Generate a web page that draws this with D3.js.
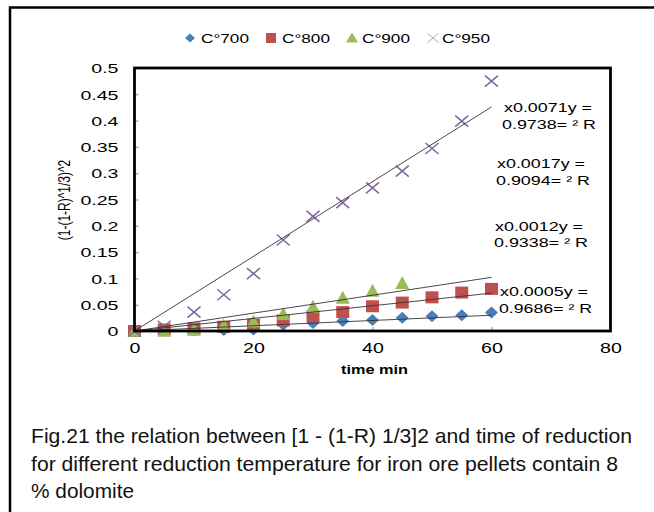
<!DOCTYPE html>
<html><head><meta charset="utf-8">
<script src="https://cdn.jsdelivr.net/npm/d3@7"></script>
<style>
body{margin:0;background:#fff;}
svg{display:block;font-family:"Liberation Sans",Arial,sans-serif;}
</style></head>
<body><svg id="c" width="654" height="512"></svg>
<script>
const times = [0,5,10,15,20,25,30,35,40,45,50,55,60];
const seriesNames = ["C°700","C°800","C°900","C°950"];
const v700 = [0,0.001,0.001,0.002,0.003,0.012,0.015,0.019,0.021,0.025,0.028,0.030,0.035];
const v800 = [0,0.003,0.005,0.008,0.012,0.020,0.028,0.036,0.047,0.054,0.064,0.073,0.080];
const v900 = [0,0.000,0.002,0.010,0.018,0.032,0.046,0.063,0.076,0.091];
const v950 = [0,0.009,0.036,0.069,0.109,0.173,0.218,0.244,0.272,0.304,0.347,0.399,0.475];
const slopes = [0.0005,0.0012,0.0017,0.0071];
const eqLabels = ["x0.0005y =","x0.0012y =","x0.0017y =","x0.0071y ="];
const r2Labels = ["0.9686= ² R","0.9338= ² R","0.9094= ² R","0.9738= ² R"];
const xTicks = [0,20,40,60,80];
const yTicks = [0,0.05,0.1,0.15,0.2,0.25,0.3,0.35,0.4,0.45,0.5];
const xTitle = "time min";
const yTitle = "(1-(1-R)^1/3)^2";
const captionLines = ["Fig.21 the relation between [1 - (1-R) 1/3]2 and time of reduction",
  "for different reduction temperature for iron ore pellets contain 8",
  "% dolomite"];

const colors = ["#4a7ebb","#c0504d","#9bbb59","#8064a2"];
const allVals = [v700,v800,v900,v950];

function stretch(sel, f){
  sel.each(function(){
    const w = this.getComputedTextLength();
    d3.select(this).attr("textLength", w*f).attr("lengthAdjust","spacingAndGlyphs");
  });
}
function fitTo(sel, w){
  sel.attr("textLength", w).attr("lengthAdjust","spacingAndGlyphs");
}

const svg = d3.select("#c");
// outer frame
svg.append("path").attr("d","M10,512 L10,7.5 L654,7.5").attr("fill","none").attr("stroke","#000").attr("stroke-width",2.5);

const L=134.5,R=610.5,T=68,B=331;
const x = d3.scaleLinear().domain([0,80]).range([L,R]);
const y = d3.scaleLinear().domain([0,0.5]).range([B,T]);

// ticks inside
const gy = svg.append("g").attr("transform",`translate(${L},0)`)
  .call(d3.axisLeft(y).tickValues(yTicks).tickSize(-4).tickFormat(d=>d3.format("~g")(d)).tickPadding(16));
gy.select(".domain").remove();
gy.selectAll("line").attr("stroke","#888");
gy.selectAll("text").attr("font-size",13.5).attr("fill","#000").attr("dy","0.35em");
stretch(gy.selectAll("text"),1.45);

const gx = svg.append("g").attr("transform",`translate(0,${B})`)
  .call(d3.axisBottom(x).tickValues(xTicks).tickSize(-4).tickPadding(12));
gx.select(".domain").remove();
gx.selectAll("line").attr("stroke","#888");
gx.selectAll("text").attr("font-size",14).attr("fill","#000");
stretch(gx.selectAll("text"),1.4);

// titles
const xt = svg.append("text").attr("x",374.5).attr("y",374).attr("text-anchor","middle")
  .attr("font-size",12).attr("font-weight","bold").text(xTitle);
fitTo(xt,67);
svg.append("text").attr("transform","translate(70,200) rotate(-90) scale(1,1.3)").attr("text-anchor","middle")
  .attr("font-size",12).text(yTitle);

// marker shapes (w,h)
function shapePath(i,px,py,w,h){
  const a=w/2,b=h/2;
  if(i===0) return `M${px},${py-b}L${px+a},${py}L${px},${py+b}L${px-a},${py}Z`;
  if(i===1) return `M${px-a},${py-b}H${px+a}V${py+b}H${px-a}Z`;
  if(i===2) return `M${px},${py-b*1.1}L${px+a},${py+b*0.9}L${px-a},${py+b*0.9}Z`;
  return `M${px-a},${py-b}L${px+a},${py+b}M${px-a},${py+b}L${px+a},${py-b}`;
}
const mw=[13,13,14,13], mh=[12,12,13,11];
allVals.forEach((vals,i)=>{
  const g = svg.append("g");
  vals.forEach((v,j)=>{
    const px=x(times[j]), py=y(v);
    const p = g.append("path").attr("d",shapePath(i,px,py,mw[i],mh[i]));
    if(i<3) p.attr("fill",colors[i]);
    else p.attr("stroke",colors[i]).attr("stroke-width",1.5).attr("fill","none");
  });
});

// trendlines
slopes.forEach((s)=>{
  svg.append("line").attr("x1",x(0)).attr("y1",y(0)).attr("x2",x(60)).attr("y2",y(s*60))
    .attr("stroke","#333").attr("stroke-width",0.9);
});

// plot frame
svg.append("rect").attr("x",L).attr("y",T).attr("width",R-L).attr("height",B-T)
  .attr("fill","none").attr("stroke","#000").attr("stroke-width",2.8);

// equation labels: [x1,y1,w1,x2,y2,w2]
const eqPos=[[500,296,88,499,313,93],[495,231,88,494,247,94],[497,168,88,496,185,94],[504,112,88,502,129,94]];
eqPos.forEach((p,i)=>{
  fitTo(svg.append("text").attr("x",p[0]).attr("y",p[1]).attr("font-size",13.5).text(eqLabels[i]),p[2]);
  fitTo(svg.append("text").attr("x",p[3]).attr("y",p[4]).attr("font-size",13.5).text(r2Labels[i]),p[5]);
});

// legend
const legX=[190,271,352,433], legT=[201,282,362,442];
seriesNames.forEach((n,i)=>{
  const cx=legX[i], cy=38;
  const lw=[10,10,12,11], lh=[9,10,10,9];
  const p = svg.append("path").attr("d",shapePath(i,cx,cy,lw[i],lh[i]));
  if(i<3) p.attr("fill",colors[i]);
  else p.attr("stroke","#aaa").attr("stroke-width",1).attr("fill","none");
  fitTo(svg.append("text").attr("x",legT[i]).attr("y",cy+5).attr("font-size",13.5).text(n),48);
});

// caption
const capW=[601,587,103];
captionLines.forEach((t,i)=>{
  fitTo(svg.append("text").attr("x",31).attr("y",443+i*27.5)
    .attr("font-size",21).attr("fill","#111").text(t), capW[i]);
});
</script></body></html>
